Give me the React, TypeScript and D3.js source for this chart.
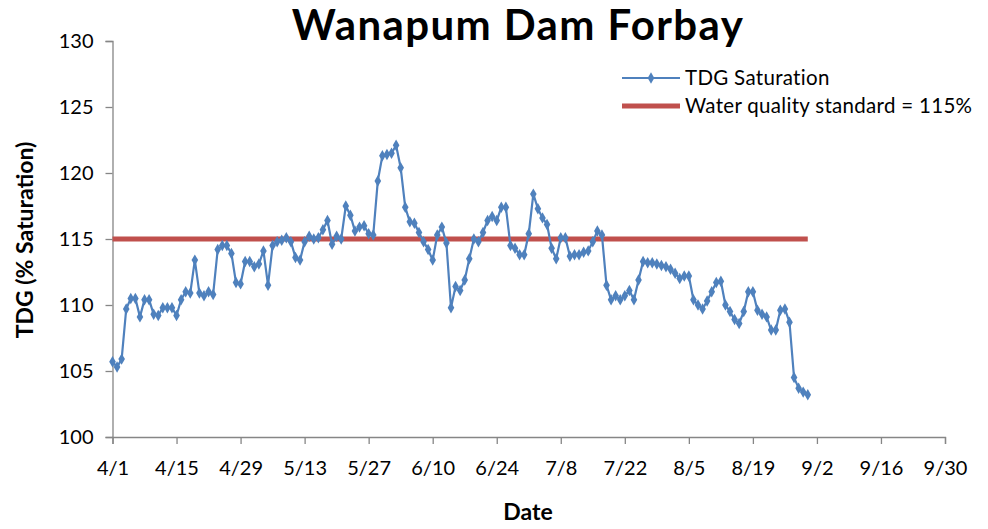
import React, { useRef, useEffect } from 'react';
import * as d3 from 'd3';

// daily TDG saturation (%), starting 4/1
const startDate = new Date(2011, 3, 1);
const endDate = new Date(2011, 8, 30);
const tdgValues = [
  105.7, 105.3, 105.9, 109.7, 110.5, 110.5, 109.1, 110.4, 110.4, 109.3,
  109.2, 109.8, 109.8, 109.8, 109.2, 110.4, 111.0, 110.9, 113.4, 110.9,
  110.7, 111.0, 110.8, 114.2, 114.5, 114.5, 113.9, 111.7, 111.6, 113.3,
  113.3, 112.9, 113.1, 114.1, 111.5, 114.5, 114.8, 114.9, 115.1, 114.8,
  113.6, 113.4, 114.8, 115.2, 115.0, 115.1, 115.7, 116.4, 114.6, 115.2,
  115.0, 117.5, 116.8, 115.6, 115.9, 116.0, 115.4, 115.3, 119.4, 121.3,
  121.4, 121.5, 122.1, 120.4, 117.4, 116.3, 116.2, 115.5, 114.8, 114.2,
  113.4, 115.3, 115.9, 114.7, 109.8, 111.4, 111.1, 111.9, 113.5, 115.0,
  114.8, 115.5, 116.4, 116.7, 116.4, 117.4, 117.4, 114.5, 114.3, 113.8,
  113.8, 115.4, 118.4, 117.3, 116.6, 116.1, 114.3, 113.5, 115.1, 115.1,
  113.7, 113.8, 113.8, 114.0, 114.1, 114.8, 115.6, 115.3, 111.5, 110.4,
  110.7, 110.4, 110.7, 111.1, 110.4, 111.9, 113.3, 113.2, 113.2, 113.1,
  113.0, 112.9, 112.7, 112.4, 112.0, 112.2, 112.2, 110.4, 110.0, 109.7,
  110.3, 111.0, 111.7, 111.8, 110.0, 109.5, 108.9, 108.6, 109.5, 111.0,
  111.0, 109.6, 109.3, 109.1, 108.1, 108.1, 109.6, 109.7, 108.7, 104.5,
  103.7, 103.4, 103.2,
];
const standardValue = 115;
const yTicks = [100, 105, 110, 115, 120, 125, 130];
const seriesNames = ['TDG Saturation', 'Water quality standard = 115%'];

const W = 988;
const H = 529;
const margin = { top: 41, right: 43, bottom: 92, left: 112.5 };
const font = 'Lato, "Open Sans", sans-serif';

const App = () => {
  const svgRef = useRef<SVGSVGElement>(null);

  useEffect(() => {
    const svg = d3.select(svgRef.current);
    svg.selectAll('*').remove();

    const data = tdgValues.map((v, i) => ({ date: d3.timeDay.offset(startDate, i), value: v }));
    const lastDate = data[data.length - 1].date;

    const x = d3.scaleTime().domain([startDate, endDate]).range([margin.left, W - margin.right]);
    const y = d3.scaleLinear().domain([100, 130]).range([H - margin.bottom, margin.top]);

    const xTicks = d3.timeDay.range(startDate, d3.timeDay.offset(endDate, 1), 14);

    // y axis
    const yAxis = svg.append('g')
      .attr('transform', `translate(${margin.left},0)`)
      .call(d3.axisLeft(y).tickValues(yTicks).tickSize(7).tickPadding(12));
    yAxis.selectAll('line, path').attr('stroke', '#868686').attr('stroke-width', 1.3);
    yAxis.selectAll('text').attr('font-size', 20).attr('font-family', font).attr('fill', '#000');

    // x axis
    const xAxis = svg.append('g')
      .attr('transform', `translate(0,${H - margin.bottom})`)
      .call(d3.axisBottom(x).tickValues(xTicks).tickFormat(d3.timeFormat('%-m/%-d') as any).tickSize(7).tickPadding(17));
    xAxis.selectAll('line, path').attr('stroke', '#868686').attr('stroke-width', 1.3);
    xAxis.selectAll('text').attr('font-size', 20).attr('font-family', font).attr('fill', '#000');

    // standard line
    svg.append('line')
      .attr('x1', x(startDate)).attr('x2', x(lastDate))
      .attr('y1', y(standardValue)).attr('y2', y(standardValue))
      .attr('stroke', '#C0504D').attr('stroke-width', 5);

    // TDG line
    const line = d3.line<{ date: Date; value: number }>().x((d) => x(d.date)).y((d) => y(d.value));
    svg.append('path').datum(data)
      .attr('d', line)
      .attr('fill', 'none').attr('stroke', '#4F81BD').attr('stroke-width', 2.2);

    const diamond = d3.symbol().type(d3.symbolDiamond).size(38);
    svg.selectAll('.pt').data(data).join('path')
      .attr('class', 'pt')
      .attr('d', diamond)
      .attr('transform', (d) => `translate(${x(d.date)},${y(d.value)})`)
      .attr('fill', '#4F81BD');

    // title
    svg.append('text')
      .attr('x', 518).attr('y', 40)
      .attr('text-anchor', 'middle')
      .attr('font-family', font).attr('font-weight', 'bold').attr('font-size', 42)
      .attr('letter-spacing', 1.4)
      .text('Wanapum Dam Forbay');

    // axis titles
    svg.append('text')
      .attr('x', 528).attr('y', 520)
      .attr('text-anchor', 'middle')
      .attr('font-family', font).attr('font-weight', 'bold').attr('font-size', 23)
      .text('Date');
    svg.append('text')
      .attr('transform', `translate(33,240) rotate(-90)`)
      .attr('text-anchor', 'middle')
      .attr('font-family', font).attr('font-weight', 'bold').attr('font-size', 23)
      .text('TDG (% Saturation)');

    // legend
    const lg = svg.append('g').attr('transform', 'translate(622,78)');
    lg.append('line').attr('x1', 0).attr('x2', 58).attr('y1', 0).attr('y2', 0)
      .attr('stroke', '#4F81BD').attr('stroke-width', 2.2);
    lg.append('path').attr('d', diamond).attr('transform', 'translate(29,0)').attr('fill', '#4F81BD');
    lg.append('line').attr('x1', 0).attr('x2', 58).attr('y1', 28).attr('y2', 28)
      .attr('stroke', '#C0504D').attr('stroke-width', 5);
    lg.selectAll('.lt').data(seriesNames).join('text')
      .attr('class', 'lt')
      .attr('x', 63).attr('y', (d, i) => i * 28 + 7)
      .attr('font-family', font).attr('font-size', 20.5)
      .attr('letter-spacing', 0.3)
      .text((d) => d);
  }, []);

  return (
    <div>
      <svg ref={svgRef} width={W} height={H} style={{ display: 'block', position: 'absolute', left: 0, top: 0 }} />
    </div>
  );
};

export default App;
